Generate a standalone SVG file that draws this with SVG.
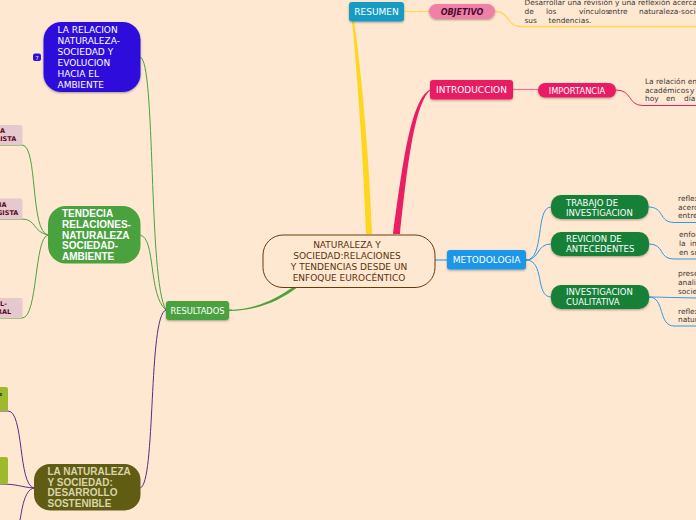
<svg xmlns="http://www.w3.org/2000/svg" width="696" height="520" viewBox="0 0 696 520">
<style>
text{font-family:"DejaVu Sans",Verdana,sans-serif;font-size:9px}
.w{fill:#fff}
.b{font-family:"Liberation Sans",Arial,sans-serif;font-weight:bold;font-size:10px}
.d{fill:#3a3a3a;font-size:7.4px}
.c{fill:none}
.s{filter:url(#sh)}
</style>
<defs><filter id="sh" x="-10%" y="-10%" width="120%" height="130%"><feDropShadow dx="0" dy="1" stdDeviation="0.8" flood-color="#000" flood-opacity="0.35"/></filter></defs>
<rect width="696" height="520" fill="#ffe8d2"/>
<g id="connectors" class="c">
<path d="M352 21C356 60 363 150 366 234L372 234C369 150 360 60 354 21Z" fill="#ffd61e"/>
<path d="M393 234C402 170 410 100 430 89.500L430 90.500C414 105 407 170 400 234Z" fill="#e91e63"/>
<path d="M229 310C255 309 275 300 293 287L298 287C278 302 255 311 229 311Z" fill="#4aa23f"/>
<path d="M435 260H447" stroke="#5fb0ee" stroke-width="1.500"/>
<path d="M404 11.500H429" stroke="#ffd95a" stroke-width="1.200"/>
<path d="M495 11.500C510 11.500 506 26 520 26.500H696" stroke="#ffd84a" stroke-width="1.300"/>
<path d="M513 89.500H538" stroke="#f4709c" stroke-width="1.200"/>
<path d="M616 90C632 90 628 105 642 105.500H696" stroke="#e91e63" stroke-width="1"/>
<g stroke="#2d9ae6" stroke-width="1">
<path d="M526 260C545 260 535 207 551 207"/>
<path d="M526 260C540 260 536 244 551 244"/>
<path d="M526 260C545 260 535 297 551 297"/>
<path d="M648 207C665 207 658 222 674 222.500H696"/>
<path d="M649 244C665 244 658 259 674 259H696"/>
<path d="M649 297C660 297 665 297.500 674 297.500L696 298"/>
<path d="M649 297C665 297 658 326 674 326H696"/>
</g>
<g stroke="#4aa23f" stroke-width="1">
<path d="M229 310H232"/>
<path d="M140 57C156 60 148 280 166 310"/>
<path d="M140 235C156 238 148 295 166 310"/>
<path d="M48 235C30 232 38 145 22 145H0"/>
<path d="M48 235C33 232 36 219 22 219H0"/>
<path d="M48 235C34 238 38 318 22 318H0"/>
</g>
<g stroke="#5a2d82" stroke-width="1">
<path d="M140 488C156 485 148 315 166 310"/>
<path d="M34 488C18 485 24 411 8 411H0"/>
<path d="M34 488C20 487 18 484 0 484"/>
<path d="M34 488C24 490 22 510 20 520"/>
</g>
</g>
<g id="central"><rect x="263" y="235" width="172" height="52.500" rx="20" fill="#ffe8d2" stroke="#6b3a0a" stroke-width="1"/>
<g fill="#5c3208" text-anchor="middle"><text x="347" y="248">NATURALEZA Y</text><text x="347" y="259">SOCIEDAD:RELACIONES</text><text x="349" y="270">Y TENDENCIAS DESDE UN</text><text x="349" y="281">ENFOQUE EUROCÉNTICO</text></g></g>
<g id="resumen"><rect class="s" x="349" y="2" width="55" height="19.500" rx="3" fill="#149cc4"/><text class="w" x="376.500" y="15" text-anchor="middle">RESUMEN</text></g>
<g id="objetivo"><rect class="s" x="429" y="4" width="66" height="15" rx="7.500" fill="#f080a8"/><text x="462" y="15" text-anchor="middle" fill="#4a0a30" font-weight="bold" font-style="italic" style="font-size:8px">OBJETIVO</text></g>
<g id="objetivo-texto" class="d"><text class="d" x="524.500" y="5">Desarrollar una revisión y una reflexión acerca d</text><text class="d" x="524.500" y="14">de</text><text class="d" x="546" y="14">los</text><text class="d" x="579" y="14">vínculos</text><text class="d" x="608" y="14" dx="0"></text><text class="d" x="608" y="14">entre</text><text class="d" x="639" y="14">naturaleza-socie</text><text class="d" x="524.500" y="22.500">sus</text><text class="d" x="548.500" y="22.500">tendencias.</text></g>
<g id="introduccion"><rect class="s" x="430" y="80" width="83" height="19.500" rx="3" fill="#e91e63"/><text class="w" x="471.500" y="93" text-anchor="middle">INTRODUCCION</text></g>
<g id="importancia"><rect class="s" x="538" y="83" width="78" height="14.500" rx="7" fill="#e91e63"/><text class="w" x="577" y="93.500" text-anchor="middle" style="font-size:8.300px">IMPORTANCIA</text></g>
<g id="importancia-texto"><text class="d" x="645" y="84">La relación ent</text><text class="d" x="645" y="92.500">académicos</text><text class="d" x="690" y="92.500">y</text><text class="d" x="645" y="101">hoy</text><text class="d" x="666" y="101">en</text><text class="d" x="684" y="101">día</text></g>
<g id="metodologia"><rect class="s" x="447" y="250" width="79" height="19.500" rx="3" fill="#1e96e8"/><text class="w" x="486.500" y="263" text-anchor="middle">METODOLOGIA</text></g>
<g id="trabajo"><rect class="s" x="551" y="195" width="97.500" height="24" rx="10" fill="#198038"/><g class="w" style="font-size:8.500px"><text class="w" x="566" y="206" style="font-size:8.500px">TRABAJO DE</text><text class="w" x="566" y="215.500" style="font-size:8.500px">INVESTIGACION</text></g></g>
<g id="trabajo-texto"><text class="d" x="678" y="201">reflex</text><text class="d" x="678" y="209.500">acerc</text><text class="d" x="678" y="218">entre</text></g>
<g id="revicion"><rect class="s" x="551" y="232" width="98" height="24" rx="10" fill="#198038"/><text class="w" x="566" y="242" style="font-size:8.500px">REVICION DE</text><text class="w" x="566" y="252" style="font-size:8.500px">ANTECEDENTES</text></g>
<g id="revicion-texto"><text class="d" x="679" y="237">enfoc</text><text class="d" x="679" y="246">la</text><text class="d" x="690" y="246">in</text><text class="d" x="679" y="254.500">en su</text></g>
<g id="investigacion"><rect class="s" x="551" y="285" width="98" height="24" rx="10" fill="#198038"/><text class="w" x="566" y="295" style="font-size:8.500px">INVESTIGACION</text><text class="w" x="566" y="305" style="font-size:8.500px">CUALITATIVA</text></g>
<g id="investigacion-texto-1"><text class="d" x="678" y="276">prese</text><text class="d" x="678" y="285">analiz</text><text class="d" x="678" y="293.500">socie</text></g>
<g id="investigacion-texto-2"><text class="d" x="678" y="313.500">reflex</text><text class="d" x="678" y="322">natur</text></g>
<g id="resultados"><rect class="s" x="166" y="301" width="63" height="19" rx="3" fill="#4aa23f"/><text class="w" x="197.500" y="313.500" text-anchor="middle" style="font-size:8.300px">RESULTADOS</text></g>
<g id="relacion"><rect class="s" x="43.500" y="22" width="97" height="70" rx="18" fill="#2f0fdc"/><g><text class="w" x="57.500" y="33">LA RELACION</text><text class="w" x="57.500" y="44">NATURALEZA-</text><text class="w" x="57.500" y="55">SOCIEDAD Y</text><text class="w" x="57.500" y="66">EVOLUCION</text><text class="w" x="57.500" y="77">HACIA EL</text><text class="w" x="57.500" y="88">AMBIENTE</text></g></g>
<g id="contador"><rect x="33" y="53.500" width="8" height="7.500" rx="2" fill="#2f0fdc"/><text class="w" x="37" y="59.500" text-anchor="middle" style="font-size:5px">7</text></g>
<g id="tendecia"><rect x="48" y="206" width="92.500" height="57.500" rx="18" fill="#4aa23f"/><text class="b w" x="62" y="217">TENDECIA</text><text class="b w" x="62" y="227.500">RELACIONES-</text><text class="b w" x="62" y="238.500">NATURALEZA</text><text class="b w" x="62" y="249">SOCIEDAD-</text><text class="b w" x="62" y="259.500">AMBIENTE</text></g>
<g id="naturaleza"><rect x="34" y="464" width="106.500" height="46.500" rx="16" fill="#615c14"/><g fill="#d8d5a8"><text class="b" x="47.500" y="475">LA NATURALEZA</text><text class="b" x="47.500" y="485.500">Y SOCIEDAD:</text><text class="b" x="47.500" y="496">DESARROLLO</text><text class="b" x="47.500" y="506.500">SOSTENIBLE</text></g></g>
<g id="rosa-1"><rect x="-10" y="125" width="32.500" height="20" rx="2" fill="#e6c8cf"/><g fill="#5a0a20" font-weight="bold" style="font-size:6.500px"><text x="0" y="133" style="font-size:6.500px">A</text><text x="-4" y="141" style="font-size:6.500px">LISTA</text></g></g>
<g id="rosa-2"><rect x="-10" y="198.500" width="32.500" height="20.500" rx="2" fill="#e6c8cf"/><g fill="#5a0a20" font-weight="bold"><text x="-1" y="206.500" style="font-size:6.500px">IA</text><text x="-3" y="214.500" style="font-size:6.500px">GISTA</text></g></g>
<g id="rosa-3"><rect x="-10" y="298" width="32.500" height="20" rx="2" fill="#e6c8cf"/><g fill="#5a0a20" font-weight="bold"><text x="0" y="306" style="font-size:6.500px">L-</text><text x="-3" y="314" style="font-size:6.500px">RAL</text></g></g>
<g id="verde-1"><rect x="-10" y="387" width="18" height="24" rx="2" fill="#9dba2f"/><text x="-3" y="398" fill="#333" font-weight="bold" style="font-size:7px">P</text></g>
<g id="verde-2"><rect x="-10" y="457" width="18" height="27" rx="2" fill="#9dba2f"/></g>
</svg>
